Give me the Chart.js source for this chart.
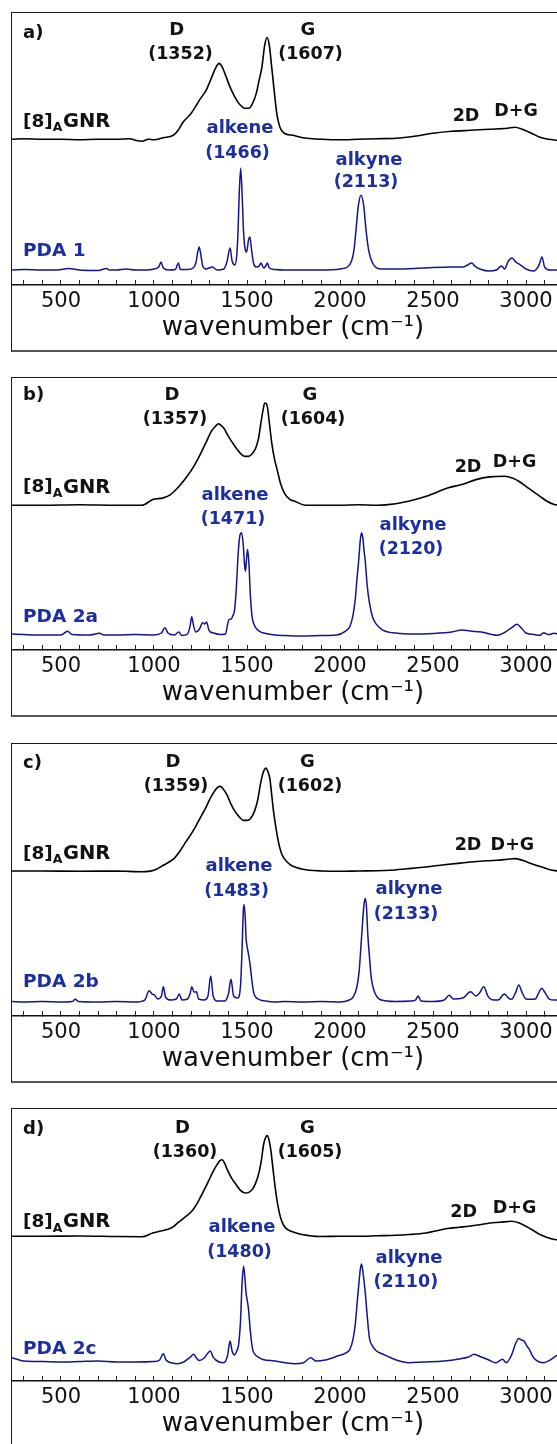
<!DOCTYPE html>
<html><head><meta charset="utf-8">
<script src="https://cdn.jsdelivr.net/npm/chart.js@4.4.1/dist/chart.umd.min.js"></script>
<style>
html,body{margin:0;padding:0;background:#fff;overflow:hidden;width:557px;height:1444px;}
.panel{position:absolute;left:0;width:574px;height:341px;}
.box{position:absolute;left:11px;top:0;width:640px;height:340px;border:1.5px solid #1a1a1a;border-bottom:2px solid #555;box-sizing:border-box;}
canvas{position:absolute;left:0;top:0;}
</style></head><body>
<script>
// ---------- data (wavenumber in cm^-1, intensity in arbitrary units) ----------
const WAVENUMBER_RANGE = [236.6, 3258];
const MAJOR_TICKS = [500, 1000, 1500, 2000, 2500, 3000];
const MINOR_TICKS = [300,400,600,700,800,900,1100,1200,1300,1400,1600,1700,1800,1900,2100,2200,2300,2400,2600,2700,2800,2900,3100,3200];
const PANEL_LETTERS = ['a)', 'b)', 'c)', 'd)'];
const SAMPLE_NAMES = ['PDA 1', 'PDA 2a', 'PDA 2b', 'PDA 2c'];
const D_BAND = [1352, 1357, 1359, 1360];
const G_BAND = [1607, 1604, 1602, 1605];
const ALKENE_BAND = [1466, 1471, 1483, 1480];
const ALKYNE_BAND = [2113, 2120, 2133, 2110];
const X_TITLE = 'wavenumber (cm\u207B\u00B9)';

const GNR_A = [[237,146],[300,146.5],[400,146],[500,146],[600,145.5],[700,146],[800,146],[870,146.5],[900,145],[935,144],[970,146],[1000,145.5],[1050,147.5],[1104,150],[1130,155],[1156,163],[1200,172],[1247,186],[1280,195],[1310,208],[1333,218],[1350,222],[1365,219],[1385,210],[1405,200],[1430,190],[1460,181],[1490,177],[1510,177],[1530,182],[1550,192],[1565,205],[1580,218],[1595,240],[1608,248],[1620,240],[1633,218],[1647,193],[1660,172],[1677,158],[1700,152],[1747,150],[1800,147.5],[1839,146.7],[1900,146],[2000,145.5],[2100,146],[2200,146.5],[2300,147],[2400,149],[2500,152],[2600,154],[2700,155],[2800,156],[2900,157],[2940,158],[2980,156],[3030,152],[3075,148],[3120,146],[3170,145]];
const PDA_1 = [[237,15],[300,15.5],[400,15],[480,15],[540,16.5],[600,15],[700,14.5],[745,16.5],[760,15],[800,15],[850,16],[900,15],[960,15],[1000,16],[1025,18],[1038,23],[1050,17],[1080,15],[1115,15.5],[1131,22],[1142,15.5],[1180,15.5],[1210,17],[1225,22],[1235,33],[1243,38],[1252,30],[1262,19],[1280,16],[1313,18],[1340,15],[1375,16],[1392,23],[1409,37],[1420,24],[1435,20],[1445,30],[1452,55],[1458,90],[1466,117],[1474,90],[1481,55],[1490,36],[1498,33],[1508,45],[1516,48],[1524,36],[1535,22],[1550,18],[1565,19],[1575,22],[1590,17],[1600,19],[1609,22],[1620,17],[1650,15.5],[1700,15],[1800,15],[1900,15],[2000,16],[2040,18],[2062,24],[2076,36],[2086,55],[2099,80],[2113,90],[2127,80],[2140,55],[2153,36],[2168,25],[2190,18],[2220,16],[2300,16],[2400,16.5],[2500,17.5],[2600,18],[2660,18],[2690,20.5],[2708,22],[2725,19],[2760,15.5],[2800,14],[2840,15],[2869,19],[2885,16],[2905,24],[2925,27],[2945,23],[2970,20],[3000,16],[3040,14],[3070,20],[3086,28],[3100,18],[3130,15],[3170,15]];

const GNR_B = [[237,145],[400,145],[600,145.5],[800,145],[935,145],[993,150.7],[1050,152.4],[1089,155.7],[1130,163],[1165,170.7],[1203,180.7],[1232,190],[1261,200.7],[1285,210],[1308,219],[1330,224],[1347,226.7],[1360,225],[1375,222.4],[1400,214],[1423,207.4],[1447,201],[1471,195.7],[1490,194],[1509,194],[1530,197],[1547,202.4],[1562,212],[1576,229],[1587,241],[1595,247.4],[1603,247],[1610,243],[1620,228],[1633,207.4],[1647,192],[1662,180.7],[1680,167],[1700,157.4],[1730,151],[1757,149],[1815,145],[1900,145],[2000,145],[2100,145.5],[2200,145],[2300,146.5],[2368,149],[2420,151.5],[2463,154],[2520,158],[2578,162.4],[2654,165.7],[2731,170.7],[2806,173.4],[2884,174],[2930,172],[2961,169],[3000,164],[3037,159],[3075,154],[3113,149],[3152,145.7],[3170,145]];
const PDA_2A = [[237,16],[300,15.5],[400,15],[500,15],[535,18.7],[560,15.5],[650,15],[707,16.7],[730,15],[800,15],[900,15.5],[1000,15],[1040,17],[1059,22.4],[1075,17],[1110,15],[1133,18],[1150,14.5],[1180,16],[1195,25],[1203,33.4],[1212,25],[1225,18],[1245,21],[1261,27.4],[1272,26],[1283,28],[1295,20],[1320,17],[1360,15.5],[1385,16],[1395,25],[1404,30.7],[1415,31],[1423,34],[1433,40],[1442,60],[1452,95],[1462,115],[1471,117.4],[1480,105],[1487,85],[1492,79],[1497,90],[1503,100.7],[1510,88],[1518,55],[1527,34],[1537,26],[1547,22.4],[1565,19],[1590,17],[1650,15],[1700,14.5],[1800,14],[1900,14.5],[1980,15],[2030,19],[2054,24],[2070,35],[2082,50.7],[2093,75],[2101,90.7],[2109,110],[2116,117.4],[2123,112],[2130,98],[2135,90.7],[2146,65],[2158,47.4],[2175,33],[2196,25.7],[2230,20],[2300,17],[2400,16],[2500,16.5],[2600,18],[2654,20],[2700,19],[2760,18],[2844,14.7],[2880,17],[2920,22],[2952,25.7],[2975,22],[3000,17],[3037,15.7],[3075,14.7],[3094,17.4],[3120,15.5],[3152,16.7],[3170,16]];

const GNR_C = [[237,145.3],[400,145.3],[600,145],[800,145.3],[935,144.5],[1000,146],[1050,151],[1107,157.7],[1135,164],[1165,172.7],[1195,181],[1222,189.3],[1250,199],[1280,209.3],[1305,219],[1328,226],[1345,229.5],[1356,230],[1370,228],[1394,221],[1412,213],[1432,206],[1456,200],[1480,196],[1500,196],[1518,197.7],[1540,205],[1557,216],[1572,232],[1585,242.7],[1594,247],[1602,248.3],[1612,245],[1623,237.7],[1632,223],[1642,206],[1656,188],[1671,172.7],[1685,163],[1700,157.7],[1730,152],[1757,149.3],[1800,147],[1833,146],[1900,145.3],[2000,145],[2100,145.3],[2200,145.5],[2269,146],[2360,147.5],[2462,149.3],[2560,151.5],[2654,153.3],[2750,155],[2844,156],[2900,157],[2940,157.7],[2980,156],[3037,152],[3090,149],[3130,146.5],[3170,145.3]];
const PDA_2B = [[237,14.5],[300,14],[400,14.5],[500,14],[560,14.5],[577,16.7],[595,14.5],[700,14],[800,14.5],[900,14],[950,16],[974,25.3],[990,22],[1003,21],[1020,17],[1040,20],[1050,29.3],[1062,19],[1090,16],[1120,17],[1136,22],[1150,16],[1180,17],[1195,23],[1203,29.3],[1215,24],[1228,24.3],[1240,17],[1270,16],[1290,20],[1305,40],[1318,20],[1340,15],[1380,15],[1400,22],[1414,36.7],[1428,20],[1450,18],[1465,30],[1474,70],[1480,105],[1484,111.7],[1490,100],[1495,78],[1501,69.3],[1510,60],[1518,49.3],[1528,33],[1537,22.7],[1560,17],[1600,15],[1650,14],[1700,14.5],[1800,14],[1900,14.5],[2000,14],[2050,16],[2072,19.3],[2091,29.3],[2103,45],[2110,62.7],[2120,90],[2128,110],[2135,117.7],[2142,110],[2150,80],[2157,62.7],[2167,40],[2177,29.3],[2190,22],[2206,17.7],[2250,15],[2300,14.5],[2380,15],[2405,16],[2421,20],[2435,15],[2500,14.5],[2560,16],[2587,20.7],[2610,17],[2660,18],[2702,24.3],[2730,20],[2750,23],[2773,29.3],[2795,20],[2817,16.3],[2850,16],[2884,22],[2905,18],[2922,16.7],[2945,24],[2961,31],[2980,23],[3000,17],[3018,16.7],[3050,17],[3070,24],[3085,27.7],[3100,24],[3125,17],[3152,16],[3170,16]];

const GNR_D = [[237,145],[400,145],[600,145.3],[800,144.7],[935,144.5],[993,148.3],[1030,150],[1070,151.7],[1100,154],[1127,158.3],[1165,164],[1203,170],[1232,178],[1261,188.3],[1290,199],[1318,210],[1340,217],[1356,221],[1366,221.7],[1380,218],[1394,211.7],[1418,203],[1442,196.7],[1465,191],[1490,188.3],[1510,189],[1528,191.7],[1548,199],[1566,210],[1578,222],[1589,236.7],[1600,244],[1610,246],[1620,240],[1629,230],[1640,212],[1652,193.3],[1666,176],[1681,163.3],[1700,155],[1719,151.7],[1760,148.5],[1796,146.7],[1891,144.7],[2000,145],[2100,145],[2200,145.5],[2300,146],[2368,146.7],[2463,148.3],[2520,150.5],[2578,152.7],[2640,154],[2693,155],[2750,156.5],[2806,158.3],[2860,159],[2922,160],[2960,158.5],[2999,155],[3037,151],[3075,146.7],[3110,144],[3152,141.7],[3170,141.5]];
const PDA_2C = [[237,23.3],[260,22],[300,20],[400,19.5],[500,19],[600,19.5],[700,20],[800,19],[900,19],[1000,19.5],[1030,21],[1050,27.3],[1065,21],[1100,18],[1127,17.3],[1160,19],[1195,24],[1213,26.7],[1228,23],[1242,20.6],[1270,23],[1290,28],[1303,30],[1318,24],[1350,19],[1375,18.3],[1395,25],[1409,40],[1420,30],[1432,26],[1445,30],[1455,36.6],[1465,60],[1474,100],[1482,115],[1490,100],[1495,88],[1499,83.3],[1508,72],[1518,50],[1530,32],[1543,26.6],[1560,24],[1586,21.6],[1650,20],[1700,18.5],[1757,17.3],[1800,18],[1843,23.3],[1870,20],[1920,21],[1986,25],[2030,28],[2053,31.7],[2070,42],[2082,56.7],[2092,78],[2101,96.7],[2110,113],[2116,117.3],[2124,108],[2135,90],[2145,68],[2158,43.3],[2175,35],[2196,30],[2230,27],[2273,23.3],[2320,20],[2368,18.3],[2450,19],[2559,20],[2640,22],[2690,24],[2721,26.7],[2760,24],[2800,21],[2836,18.3],[2874,21.7],[2893,18.3],[2920,25],[2945,38],[2961,42.7],[2975,41],[2989,40],[3005,35],[3018,31.7],[3035,25],[3056,20.7],[3094,18.3],[3130,21],[3152,24],[3170,26]];

const GNR_SERIES = [GNR_A, GNR_B, GNR_C, GNR_D];
const PDA_SERIES = [PDA_1, PDA_2A, PDA_2B, PDA_2C];

// ---------- layout & style ----------
const PANEL_TOP = [12, 377.4, 742.8, 1108.2];
const CANVAS_W = 574, CANVAS_H = 339, AXIS_BAND = 66, Y_MAX = 273.5;
const BLACK = '#111111', BLUE_TEXT = '#1c2f9e', BLUE_LINE = '#14148c';
const FONT = '"DejaVu Sans", "Liberation Sans", Arial, sans-serif';
const LABEL_POS = [
 {letter:[23,21], D:[176.7,18.5], Dn:[180.5,42], G:[308,18], Gn:[310.5,42], D2:[466,104], DG:[516,99], gnr:[23,110], alkene:[240,116], alkeneN:[237.5,141], alkyne:[369,148], alkyneN:[366,170], pda:[23,239]},
 {letter:[23,18.8], D:[172,18.3], Dn:[175,42.3], G:[310,18.3], Gn:[313,42.3], D2:[468,90], DG:[514.6,85], gnr:[23,110.6], alkene:[235,118], alkeneN:[233,142.6], alkyne:[413,148], alkyneN:[411,172], pda:[23,240]},
 {letter:[23,20.2], D:[173,18.9], Dn:[176,43.2], G:[307.5,18.9], Gn:[310,43.2], D2:[468,102.2], DG:[512.4,102.2], gnr:[23,111.2], alkene:[239,123], alkeneN:[236.6,148.2], alkyne:[409,146.2], alkyneN:[406,171.2], pda:[23,238.9]},
 {letter:[23,21.8], D:[182.4,20.1], Dn:[185,44.3], G:[307.5,20.1], Gn:[310,44.3], D2:[463.7,104.3], DG:[514.6,100.8], gnr:[23,114.3], alkene:[242,119.3], alkeneN:[239.5,144.3], alkyne:[409,150.1], alkyneN:[405.8,174.3], pda:[23,240.8]}
];

function toXY(arr){ return arr.map(p => ({x:p[0], y:p[1]})); }

function txt(ctx, s, x, y, color, align, size){
  ctx.font = 'bold ' + size + 'px ' + FONT;
  ctx.fillStyle = color; ctx.textAlign = align; ctx.textBaseline = 'middle';
  ctx.fillText(s, x, y);
}

function makeLabelPlugin(i){
  return {
    id: 'bandLabels' + i,
    afterDatasetsDraw(chart){
      const ctx = chart.ctx, P = LABEL_POS[i];
      ctx.save();
      txt(ctx, PANEL_LETTERS[i], P.letter[0], P.letter[1], BLACK, 'left', 18);
      txt(ctx, 'D', P.D[0], P.D[1], BLACK, 'center', 18);
      txt(ctx, '(' + D_BAND[i] + ')', P.Dn[0], P.Dn[1], BLACK, 'center', 17.5);
      txt(ctx, 'G', P.G[0], P.G[1], BLACK, 'center', 18);
      txt(ctx, '(' + G_BAND[i] + ')', P.Gn[0], P.Gn[1], BLACK, 'center', 17.5);
      txt(ctx, '2D', P.D2[0], P.D2[1], BLACK, 'center', 17.5);
      txt(ctx, 'D+G', P.DG[0], P.DG[1], BLACK, 'center', 17.5);
      // [8]_A GNR
      let x = P.gnr[0]; const y = P.gnr[1];
      txt(ctx, '[8]', x, y, BLACK, 'left', 18.5); x += ctx.measureText('[8]').width;
      txt(ctx, 'A', x, y + 6, BLACK, 'left', 12.5); x += ctx.measureText('A').width + 0.5;
      txt(ctx, 'GNR', x, y, BLACK, 'left', 19.5);
      txt(ctx, 'alkene', P.alkene[0], P.alkene[1], BLUE_TEXT, 'center', 18);
      txt(ctx, '(' + ALKENE_BAND[i] + ')', P.alkeneN[0], P.alkeneN[1], BLUE_TEXT, 'center', 17.5);
      txt(ctx, 'alkyne', P.alkyne[0], P.alkyne[1], BLUE_TEXT, 'center', 18);
      txt(ctx, '(' + ALKYNE_BAND[i] + ')', P.alkyneN[0], P.alkyneN[1], BLUE_TEXT, 'center', 17.5);
      txt(ctx, SAMPLE_NAMES[i], P.pda[0], P.pda[1], BLUE_TEXT, 'left', 18.5);
      ctx.restore();
    }
  };
}

const ALL_TICKS = MAJOR_TICKS.concat(MINOR_TICKS).sort((a,b)=>a-b);

for (let i = 0; i < 4; i++) {
  const panel = document.createElement('div');
  panel.className = 'panel';
  panel.style.top = PANEL_TOP[i] + 'px';
  const box = document.createElement('div'); box.className = 'box';
  panel.appendChild(box);
  const cv = document.createElement('canvas');
  cv.width = CANVAS_W; cv.height = CANVAS_H;
  cv.style.width = CANVAS_W + 'px'; cv.style.height = CANVAS_H + 'px';
  panel.appendChild(cv);
  document.body.appendChild(panel);

  new Chart(cv, {
    type: 'line',
    data: { datasets: [
      { data: toXY(GNR_SERIES[i]), borderColor: '#000', borderWidth: 1.6, pointRadius: 0, cubicInterpolationMode: 'monotone', fill: false },
      { data: toXY(PDA_SERIES[i]), borderColor: BLUE_LINE, borderWidth: 1.5, pointRadius: 0, cubicInterpolationMode: 'monotone', fill: false }
    ]},
    options: {
      responsive: false, animation: false, devicePixelRatio: 1,
      layout: { padding: { left: 12, right: 0, top: 0, bottom: 0 }, autoPadding: false },
      plugins: { legend: { display: false }, tooltip: { enabled: false } },
      scales: {
        x: {
          type: 'linear', position: 'bottom',
          min: WAVENUMBER_RANGE[0], max: WAVENUMBER_RANGE[1],
          afterBuildTicks: s => { s.ticks = ALL_TICKS.map(v => ({ value: v })); },
          afterFit: s => { s.height = AXIS_BAND; },
          ticks: { autoSkip: false, maxRotation: 0, minRotation: 0, padding: 9, color: BLACK,
                   font: { family: FONT, size: 21 },
                   callback: v => MAJOR_TICKS.includes(v) ? String(v) : '' },
          grid: { display: true, drawOnChartArea: false, drawTicks: true, tickLength: -5, tickWidth: 1, tickColor: '#222' },
          border: { display: true, color: BLACK, width: 1.5 },
          title: { display: true, text: X_TITLE, color: BLACK, font: { family: FONT, size: 26, lineHeight: 1.2 }, padding: { top: 0, bottom: 7 } }
        },
        y: { display: false, min: 0, max: Y_MAX }
      }
    },
    plugins: [makeLabelPlugin(i)]
  });
}
</script>
</body></html>
